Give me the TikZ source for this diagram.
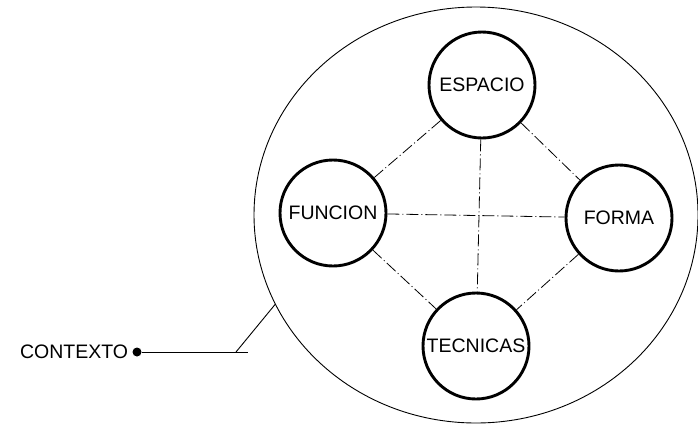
\documentclass[tikz,border=0pt]{standalone}
\usepackage{fontspec}
\setmainfont{Liberation Sans}
\usetikzlibrary{positioning,shapes.geometric}

\begin{document}
\begin{tikzpicture}[x=1pt,y=-1pt,font=\fontsize{19.5}{22}\selectfont,
    topic/.style={draw,circle,line width=2.9pt,minimum size=106pt,inner sep=0pt},
    link/.style={line width=0.8pt,dash pattern=on 12pt off 3pt on 1pt off 3pt}]
  \useasboundingbox (0,0) rectangle (698,426);
  \node[draw,ellipse,line width=0.9pt,minimum width=444pt,minimum height=416pt] (ctx) at (476,215) {};
  \node[topic] (espacio) at (482,85) {ESPACIO};
  \node[topic] (funcion) at (333,213) {FUNCION};
  \node[topic] (forma) at (619,218) {FORMA};
  \node[topic] (tecnicas) at (476,346) {TECNICAS};
  \draw[link] (espacio) -- (funcion);
  \draw[link] (espacio) -- (forma);
  \draw[link] (funcion) -- (tecnicas);
  \draw[link] (forma) -- (tecnicas);
  \draw[link] (espacio) -- (tecnicas);
  \draw[link] (funcion) -- (forma);
  \node[circle,fill,minimum size=9pt,inner sep=0pt] (dot) at (137,352) {};
  \node[inner sep=0pt,left=4pt of dot] (contexto) {CONTEXTO};
  \coordinate (bend) at (236,352);
  \coordinate (tail) at (248,352);
  \draw[line width=0.9pt] (dot) -- (tail);
  \draw[line width=0.9pt] (bend) -- (ctx.204);
\end{tikzpicture}
\end{document}
